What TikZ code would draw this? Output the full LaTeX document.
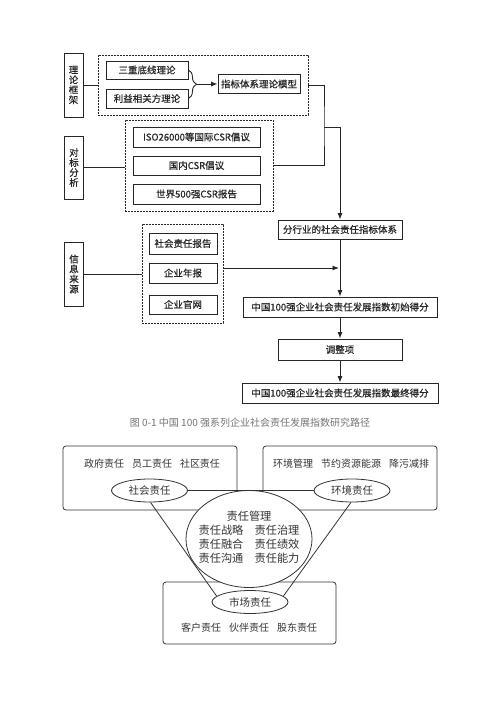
\documentclass[tikz,border=0pt]{standalone}
\usepackage{fontspec}
\setmainfont{Noto Sans CJK SC}
\newfontfamily\heavycjk{Noto Sans CJK SC}[FakeBold=0.6]
\usetikzlibrary{shapes.geometric,decorations.pathreplacing,arrows.meta}

\begin{document}
\begin{tikzpicture}[
        x=1pt,y=-1pt,
        every node/.style={inner sep=0pt,text=black!85},
        line/.style={line width=0.9pt,draw=black!85},
        arr/.style={line,-{Latex[length=6.5pt,width=5pt]}},
        box/.style={draw=black!85,line width=0.9pt,minimum height=19pt,
            font=\fontsize{9.5}{11}\heavycjk},
        dbox/.style={draw=black!85,line width=0.9pt,dash pattern=on 1.6pt off 1.4pt},
        tag/.style={draw=black!85,line width=0.9pt,minimum width=19pt,minimum height=64pt,
            align=center,font=\fontsize{9.5}{10}\heavycjk},
        rbox/.style={draw=black!80,line width=0.8pt,rounded corners=3pt},
        note/.style={text=black!80,font=\fontsize{10}{12}\selectfont},
        oval/.style={ellipse,draw=black!80,fill=white,line width=0.8pt,
            minimum width=76pt,minimum height=23pt,text=black!80,
            font=\fontsize{10.5}{12}\selectfont},
        thinline/.style={line width=0.8pt,draw=black!80}
    ]
    \useasboundingbox (0,0) rectangle (500,707);
    \node[tag] (llkj) at (73.5,85) {理\\论\\框\\架};
    \node[dbox,minimum width=210pt,minimum height=60pt] (dk1) at (203,85) {};
    \node[box,minimum width=82pt,minimum height=18pt] (sc) at (147,70) {三重底线理论};
    \node[box,minimum width=82pt] (ly) at (147,98.5) {利益相关方理论};
    \node[box,minimum width=82pt] (mx) at (259,84) {指标体系理论模型};
    \coordinate (bt) at (197,84);
    \draw[line,decorate,decoration={brace,amplitude=8pt}] (sc.east) -- (ly.east);
    \draw[arr] (bt) -- (mx.west);

    \node[tag,minimum height=63pt] (dbfx) at (74,167.5) {对\\标\\分\\析};
    \node[dbox,minimum width=148pt,minimum height=91pt] (dk2) at (199,165.5) {};
    \node[box,minimum width=127pt,minimum height=20pt] (iso) at (196.5,137) {ISO26000等国际CSR倡议};
    \node[box,minimum width=127pt] (gn) at (196.5,165.5) {国内CSR倡议};
    \node[box,minimum width=127pt,minimum height=20pt] (sj) at (196.5,194) {世界500强CSR报告};

    \node[tag] (xxly) at (74,274) {信\\息\\来\\源};
    \node[dbox,minimum width=81pt,minimum height=99pt] (dk3) at (182.5,273.5) {};
    \node[box,minimum width=68pt,minimum height=21pt] (bg) at (183,243.5) {社会责任报告};
    \node[box,minimum width=68pt,minimum height=20pt] (nb) at (183,273) {企业年报};
    \node[box,minimum width=68pt] (gw) at (183,304.5) {企业官网};

    \node[box,minimum width=124pt] (fx) at (340,229.5) {分行业的社会责任指标体系};
    \node[box,minimum width=194pt,minimum height=20pt] (cs) at (340,307) {中国100强企业社会责任发展指数初始得分};
    \node[box,minimum width=124pt,minimum height=21pt] (tz) at (340,349.5) {调整项};
    \node[box,minimum width=196pt,minimum height=20pt] (zz) at (340,393) {中国100强企业社会责任发展指数最终得分};

    \draw[line] (llkj.east) -- (dk1.west);
    \draw[line] (dbfx.east) -- (dbfx.east -| dk2.west);
    \draw[line] (xxly.east) -- (xxly.east -| dk3.west);
    \coordinate (jc) at (324,127);
    \draw[line] (dk1.east) -| (jc) |- (dk2.east);
    \draw[arr] (jc) -| (fx.north);
    \coordinate (jr) at (339,268);
    \draw[arr] (dk3.east |- jr) -- (jr);
    \draw[arr] (fx) -- (cs);
    \draw[arr] (cs) -- (tz);
    \draw[arr] (tz) -- (zz);

    \node[text=black!55,font=\fontsize{10}{12}\selectfont] (tt) at (250,423)
        {图 0-1 中国 100 强系列企业社会责任发展指数研究路径};

    \node[rbox,minimum width=174pt,minimum height=64pt] (shk) at (150,478) {};
    \node[rbox,minimum width=174pt,minimum height=64pt] (hjk) at (350,478) {};
    \node[rbox,minimum width=173pt,minimum height=62pt] (sck) at (249.5,613) {};
    \node[note] (shnr) at (152,464) {政府责任\hspace{0.8em}员工责任\hspace{0.8em}社区责任};
    \node[note] (hjnr) at (351,464) {环境管理\hspace{0.8em}节约资源能源\hspace{0.8em}降污减排};
    \node[note] (scnr) at (249,628) {客户责任\hspace{0.8em}伙伴责任\hspace{0.8em}股东责任};
    \node[ellipse,draw=black!80,fill=white,line width=0.8pt,
        minimum width=126pt,minimum height=97pt] (zrgl) at (249,539) {};
    \node[text=black!80,align=center,font=\fontsize{11.2}{14}\selectfont] (zrnr) at (249,537)
        {责任管理\\责任战略\hspace{1em}责任治理\\责任融合\hspace{1em}责任绩效\\责任沟通\hspace{1em}责任能力};
    \node[oval] (shzr) at (149.5,490.5) {社会责任};
    \node[oval] (hjzr) at (352,490.5) {环境责任};
    \node[oval] (sczr) at (250,602) {市场责任};
    \draw[thinline] (shzr) -- (hjzr);
    \draw[thinline] (shzr.-85) -- (sczr.170);
    \draw[thinline] (hjzr.-95) -- (sczr.10);
\end{tikzpicture}
\end{document}
